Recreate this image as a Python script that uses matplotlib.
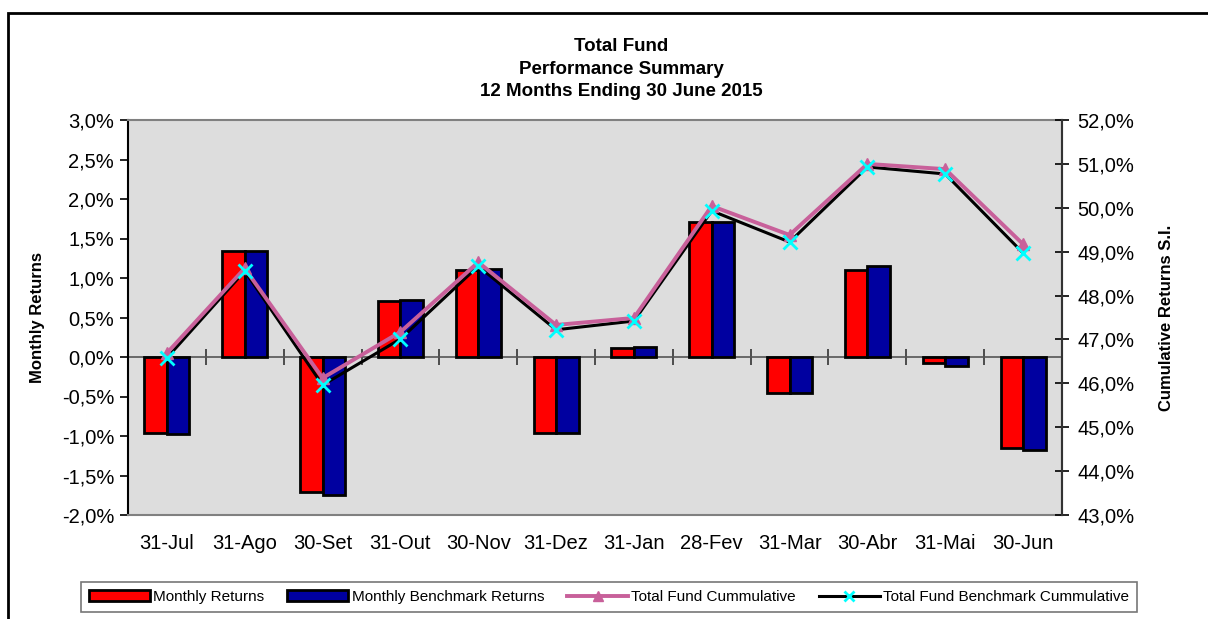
import numpy as np
import matplotlib
matplotlib.use("Agg")
import matplotlib.pyplot as plt
from matplotlib.ticker import FuncFormatter, FixedLocator
from matplotlib.lines import Line2D
from matplotlib.patches import Rectangle

plt.rcParams['font.family'] = ['Liberation Sans', 'DejaVu Sans']

months = ["31-Jul", "31-Ago", "30-Set", "31-Out", "30-Nov", "31-Dez",
          "31-Jan", "28-Fev", "31-Mar", "30-Abr", "31-Mai", "30-Jun"]

# monthly returns (%)
monthly = [-0.96, 1.34, -1.71, 0.71, 1.10, -0.96, 0.12, 1.71, -0.45, 1.10, -0.07, -1.15]
monthly_bench = [-0.97, 1.34, -1.75, 0.72, 1.12, -0.96, 0.13, 1.71, -0.46, 1.15, -0.11, -1.18]

# cumulative since inception (%)
cum_fund = [46.69, 48.62, 46.12, 47.17, 48.76, 47.33, 47.49, 50.04, 49.38, 51.00, 50.88, 49.17]
cum_bench = [46.58, 48.56, 45.96, 47.01, 48.67, 47.22, 47.42, 49.93, 49.22, 50.93, 50.77, 48.97]

pink = "#C8609A"
red = "#FF0000"
blue = "#0000A0"

def pct(v, pos):
    return ("%.1f%%" % v).replace(".", ",")

fig = plt.figure(figsize=(12.08, 6.19), dpi=100)

# outer chart border
fig.patches.append(Rectangle((8/1208, -0.05), 1.2, 1 - 13/619 + 0.05,
                             transform=fig.transFigure, fill=False,
                             edgecolor="black", linewidth=2))

ax1 = fig.add_axes([128/1208, 1 - 515/619, (1062 - 128)/1208, (515 - 120)/619])
ax1.set_facecolor("#DDDDDD")

x = np.arange(len(months))
w = 0.29
ax1.bar(x - w/2, monthly, w, color=red, edgecolor="black", linewidth=2,
        label="Monthly Returns", zorder=2)
ax1.bar(x + w/2, monthly_bench, w, color=blue, edgecolor="black", linewidth=2,
        label="Monthly Benchmark Returns", zorder=2)

ax1.set_xlim(-0.5, len(months) - 0.5)
ax1.set_ylim(-2.0, 3.0)
ax1.set_yticks(np.arange(-2.0, 3.01, 0.5))
ax1.yaxis.set_major_formatter(FuncFormatter(pct))
ax1.set_xticks(x)
ax1.set_xticklabels(months)
ax1.tick_params(axis="x", length=0, pad=14, labelsize=14.5)
ax1.tick_params(axis="y", direction="out", length=6, width=1.2, labelsize=14.5, pad=4)
ax1.set_ylabel("Monthly Returns", fontsize=12, fontweight="bold", labelpad=12)

ax1.axhline(0, color="#555555", linewidth=1.2, zorder=1)
for s in ["top", "bottom", "right"]:
    ax1.spines[s].set_color("#808080")
    ax1.spines[s].set_linewidth(1.5)
ax1.spines["left"].set_color("black")
ax1.spines["left"].set_linewidth(1.5)

# category separator ticks on the zero line
sec = ax1.secondary_xaxis(0.4)
sec.xaxis.set_major_locator(FixedLocator(x[:-1] + 0.5))
sec.tick_params(axis="x", direction="inout", length=12, width=1.2,
                color="#333333", labelbottom=False)
sec.spines["bottom"].set_visible(False)

ax2 = ax1.twinx()
ax2.plot(x, cum_bench, color="black", linewidth=2.2, zorder=2)
ax2.plot(x, cum_fund, color=pink, linewidth=2.8, marker="^", markersize=9,
         markerfacecolor=pink, markeredgecolor=pink, zorder=3)
ax2.plot(x, cum_bench, linestyle="none", marker="x", markersize=10,
         markeredgewidth=2, color="#00FFFF", zorder=4)
ax2.set_ylim(43.0, 52.0)
ax2.set_yticks(np.arange(43, 52.01, 1.0))
ax2.yaxis.set_major_formatter(FuncFormatter(pct))
ax2.tick_params(axis="y", direction="inout", length=10, width=1.2, labelsize=14.5, pad=6)
ax2.set_ylabel("Cumulative Returns S.I.", fontsize=12, fontweight="bold", labelpad=18)
ax2.spines["right"].set_color("#333333")
ax2.spines["right"].set_linewidth(1.5)
for s in ["top", "bottom", "left"]:
    ax2.spines[s].set_visible(False)

fig.text(621/1208, 1 - 69/619,
         "Total Fund\nPerformance Summary\n12 Months Ending 30 June 2015",
         ha="center", va="center", fontsize=13.5, fontweight="bold", linespacing=1.45)

handles = [
    Rectangle((0, 0), 1, 1, facecolor=red, edgecolor="black", linewidth=2),
    Rectangle((0, 0), 1, 1, facecolor=blue, edgecolor="black", linewidth=2),
    Line2D([], [], color=pink, linewidth=2.8, marker="^", markersize=7,
           markerfacecolor=pink, markeredgecolor=pink),
    Line2D([], [], color="black", linewidth=2.2, marker="x", markersize=7,
           markeredgewidth=2, markeredgecolor="#00FFFF"),
]
labels = ["Monthly Returns", "Monthly Benchmark Returns",
          "Total Fund Cummulative", "Total Fund Benchmark Cummulative"]
leg = fig.legend(handles, labels, loc="center", bbox_to_anchor=(609/1208, 1 - 597/619),
                 ncol=4, fontsize=11, frameon=True, fancybox=False,
                 handlelength=4.0, handleheight=0.7, handletextpad=0.2,
                 columnspacing=1.5, borderpad=0.55)
leg.get_frame().set_edgecolor("#555555")
leg.get_frame().set_linewidth(1.2)

fig.savefig("out.png", dpi=100)
